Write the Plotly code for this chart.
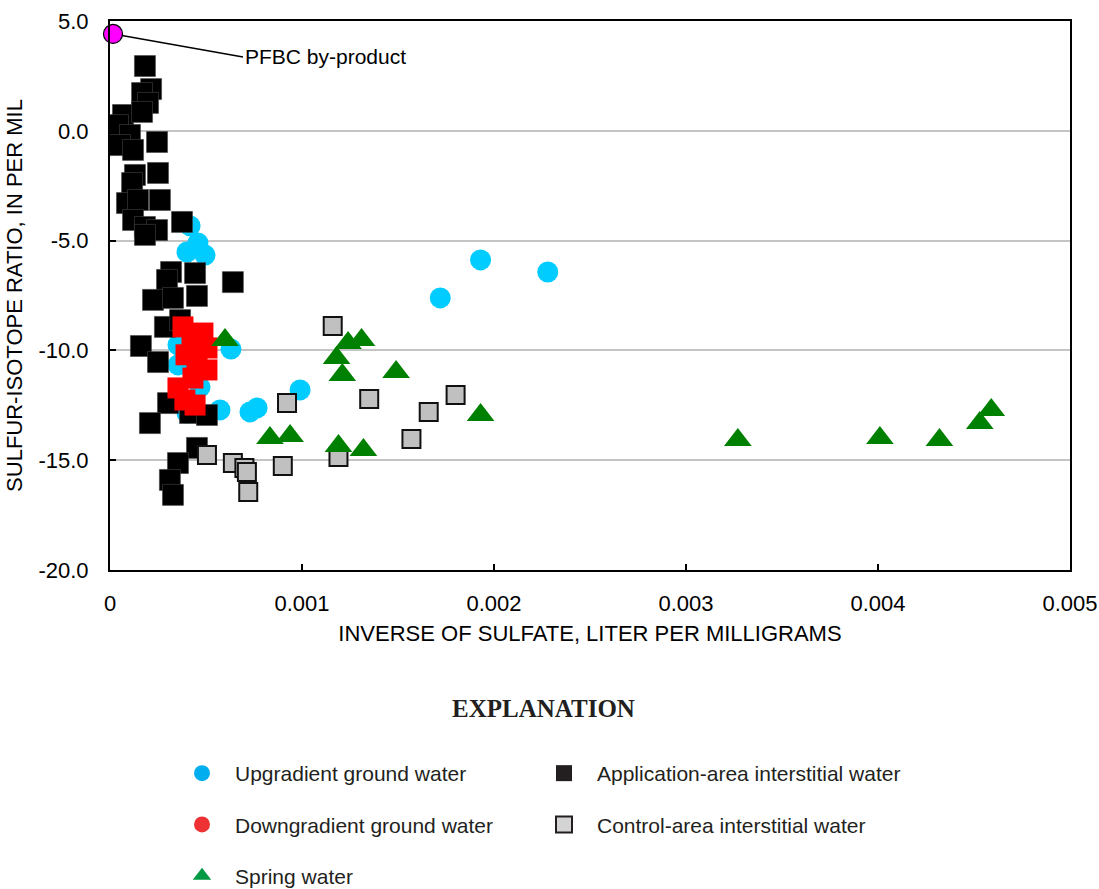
import plotly.graph_objects as go

# ---- data ----
upgradient_x = [0.000417, 0.000458, 0.000401, 0.000495, 0.00063, 0.000354, 0.000354,
                0.000469, 0.000573, 0.000729, 0.000766, 0.00099, 0.000401,
                0.00172, 0.00193, 0.00228]
upgradient_y = [-4.33, -5.11, -5.52, -5.66, -9.94, -9.75, -10.66,
                -11.67, -12.71, -12.80, -12.62, -11.80, -12.85,
                -7.61, -5.88, -6.43]

downgradient_x = [0.00038, 0.000484, 0.000427, 0.000505, 0.000453, 0.000505, 0.000432,
                  0.000354, 0.00039, 0.000443, 0.000396]
downgradient_y = [-8.93, -9.21, -9.75, -9.89, -10.44, -10.89, -11.26,
                  -11.71, -12.26, -12.49, -10.2]

spring_x = [0.000599, 0.00118, 0.00124, 0.00131, 0.00121, 0.00149, 0.00193,
            0.000833, 0.000938, 0.00119, 0.00132, 0.00327, 0.00401, 0.00432,
            0.00453, 0.00459]
spring_y = [-9.53, -10.35, -9.66, -9.53, -11.12, -10.98, -12.94,
            -13.99, -13.90, -14.35, -14.54, -14.08, -13.99, -14.08,
            -13.31, -12.71]

application_x = [0.000182, 0.000214, 0.000167, 0.000198, 0.0000677, 0.000167, 0.0000417,
                 0.000104, 0.000052, 0.000245, 0.00012, 0.00013, 0.00025, 0.000115,
                 0.0000885, 0.000146, 0.00026, 0.00012, 0.000182, 0.000245, 0.000375,
                 0.000182, 0.000318, 0.000443, 0.000297, 0.00064, 0.000224, 0.000328,
                 0.000453, 0.000286, 0.000365, 0.000161, 0.00025, 0.000302, 0.000208,
                 0.000417, 0.000505, 0.000453, 0.000354, 0.000312, 0.000328]
application_y = [2.95, 1.90, 1.72, 1.27, 0.72, 0.86, 0.26,
                 -0.19, -0.65, -0.51, -0.87, -2.01, -1.92, -2.38,
                 -3.29, -3.15, -3.15, -4.06, -4.38, -4.52, -4.15,
                 -4.74, -6.43, -6.48, -6.79, -6.89, -7.70, -7.61,
                 -7.52, -8.93, -8.62, -9.80, -10.53, -12.40, -13.31,
                 -12.85, -12.94, -14.44, -15.13, -15.90, -16.58]

control_x = [0.00116, 0.000922, 0.00135, 0.00166, 0.0018, 0.00157, 0.00119,
             0.0009, 0.000505, 0.00064, 0.0007, 0.000713, 0.00072]
control_y = [-8.89, -12.40, -12.21, -12.80, -12.03, -14.03, -14.85,
             -15.26, -14.76, -15.13, -15.36, -15.54, -16.45]

pfbc_x = [0.0000156]
pfbc_y = [4.41]

x_ticks = [0, 0.001, 0.002, 0.003, 0.004, 0.005]
x_ticktext = ["0", "0.001", "0.002", "0.003", "0.004", "0.005"]
y_ticks = [5, 0, -5, -10, -15, -20]
y_ticktext = ["5.0", "0.0", "-5.0", "-10.0", "-15.0", "-20.0"]

FONT = "Liberation Sans, Arial, sans-serif"

fig = go.Figure()

# data traces (drawing order: blue, black, gray, red, green, magenta)
fig.add_trace(go.Scatter(x=upgradient_x, y=upgradient_y, mode="markers", showlegend=False,
                         marker=dict(symbol="circle", size=21, color="#00CCFF")))
fig.add_trace(go.Scatter(x=application_x, y=application_y, mode="markers", showlegend=False,
                         marker=dict(symbol="square", size=21, color="#000000",
                                     line=dict(color="#444444", width=0.6))))
fig.add_trace(go.Scatter(x=control_x, y=control_y, mode="markers", showlegend=False,
                         marker=dict(symbol="square", size=18, color="#C0C0C0",
                                     line=dict(color="#111111", width=2))))
fig.add_trace(go.Scatter(x=downgradient_x, y=downgradient_y, mode="markers", showlegend=False,
                         marker=dict(symbol="square", size=21, color="#FF0000")))
fig.add_trace(go.Scatter(x=spring_x, y=spring_y, mode="markers", showlegend=False,
                         marker=dict(symbol="triangle-up", size=24, color="#008000")))
fig.add_trace(go.Scatter(x=pfbc_x, y=pfbc_y, mode="markers", showlegend=False, cliponaxis=False,
                         marker=dict(symbol="circle", size=19, color="#FF00FF",
                                     line=dict(color="#000000", width=1.2))))

# legend-only entries
leg_items = [
    ("Upgradient ground water", "circle", "#00AEEF", None, "legend"),
    ("Downgradient ground water", "circle", "#EE3234", None, "legend"),
    ("Spring water", "triangle-up", "#009A44", None, "legend"),
    ("Application-area interstitial water", "square", "#231F20", None, "legend2"),
    ("Control-area interstitial water", "square", "#D4D4D4", "#231F20", "legend2"),
]
for i, (name, sym, col, lc, lg) in enumerate(leg_items):
    mk = dict(symbol=sym, size=16, color=col)
    if lc:
        mk["line"] = dict(color=lc, width=2)
    fig.add_trace(go.Scatter(x=[None], y=[None], mode="markers", name=name,
                             legendgroup="g%d" % i, legend=lg, marker=mk))

fig.add_annotation(x=pfbc_x[0], y=pfbc_y[0], text="PFBC by-product", showarrow=True,
                   arrowhead=0, arrowwidth=1.5, arrowcolor="#000", standoff=9,
                   ax=130, ay=23, xanchor="left",
                   font=dict(family=FONT, size=21, color="#000"))

fig.add_annotation(x=0.452, y=(570 - 708) / 549, xref="paper", yref="paper", showarrow=False,
                   xanchor="center", yanchor="middle",
                   text="<b>EXPLANATION</b>",
                   font=dict(family="Liberation Serif, Times New Roman, serif", size=25, color="#231F20"))

legend_common = dict(orientation="v", font=dict(family=FONT, size=21, color="#231F20"),
                     bgcolor="rgba(0,0,0,0)", tracegroupgap=21, itemwidth=56,
                     xanchor="left", yanchor="top", traceorder="grouped")

fig.update_layout(
    width=1099, height=889,
    margin=dict(l=110, r=29, t=21, b=319, autoexpand=False),
    paper_bgcolor="white", plot_bgcolor="white",
    font=dict(family=FONT, size=22, color="#000"),
    legend=dict(x=(169 - 110) / 960, y=(570 - 753) / 549, **legend_common),
    legend2=dict(x=(531 - 110) / 960, y=(570 - 753) / 549, **legend_common),
    xaxis=dict(range=[0, 0.005], tickvals=x_ticks, ticktext=x_ticktext, automargin=False,
               showgrid=False, zeroline=False, showline=True, linecolor="#000",
               linewidth=2, mirror=True, ticks="inside", ticklen=6, tickwidth=1.5,
               tickcolor="#000", ticklabelstandoff=13,
               title=dict(text="INVERSE OF SULFATE, LITER PER MILLIGRAMS", standoff=10,
                          font=dict(family=FONT, size=22))),
    yaxis=dict(range=[-20, 5], tickvals=y_ticks, ticktext=y_ticktext, automargin=False,
               showgrid=True, gridcolor="#C4C4C4", gridwidth=2, zeroline=False,
               showline=True, linecolor="#000", linewidth=2, mirror=True,
               ticks="inside", ticklen=6, tickwidth=1.5, tickcolor="#000",
               ticklabelstandoff=15,
               title=dict(text="SULFUR-ISOTOPE RATIO, IN PER MIL", standoff=10,
                          font=dict(family=FONT, size=22))),
)

fig.write_html("out.html")
